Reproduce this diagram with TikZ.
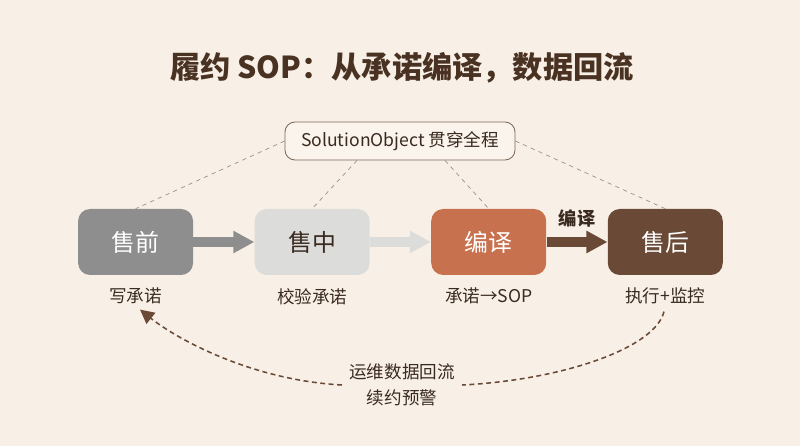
\documentclass[tikz,border=0pt]{standalone}
\usepackage{fontspec}
\setmainfont{Noto Sans CJK SC}
\usepackage{xcolor}
\usepackage{tikz}
\usetikzlibrary{positioning, arrows.meta}
\definecolor{paper}{HTML}{F8F0E6}
\definecolor{ink}{HTML}{4A3222}
\definecolor{txt}{HTML}{3A2A20}
\definecolor{stPre}{HTML}{8E8E8E}
\definecolor{stMid}{HTML}{DCDCDA}
\definecolor{stCmp}{HTML}{C8714F}
\definecolor{stPost}{HTML}{6A4A37}
\definecolor{soBorder}{HTML}{7D6656}
\definecolor{soFill}{HTML}{FAF4EC}
\definecolor{guide}{HTML}{9A918A}

\begin{document}
\begin{tikzpicture}[stage/.style={rounded corners=0.3cm, minimum width=2.875cm, minimum height=1.65cm, font=\fontsize{17}{20}\selectfont, text=white},sub/.style={font=\fontsize{12.5}{14}\selectfont, text=txt, inner sep=1pt},flow/.style={line width=7pt, -{Triangle[length=15pt, width=15pt]}},guideline/.style={draw=guide, dashed, line width=0.5pt},loopline/.style={draw=stPost, line width=1.1pt, dash pattern=on 3.5pt off 2.5pt}]
\fill[paper] (0,0) rectangle (20,-11.15);
\node[font=\bfseries\fontsize{21.5}{25}\selectfont, text=ink] (title) at (10.05,-1.7) {履约 SOP：从承诺编译，数据回流};
\node[draw=soBorder, fill=soFill, rounded corners=0.25cm, line width=0.6pt, minimum width=5.75cm, minimum height=0.95cm, font=\fontsize{12.5}{14}\selectfont, text=txt] (so) at (10,-3.525) {SolutionObject 贯穿全程};
\node[stage, fill=stPre] (pre) at (3.39,-6.05) {售前};
\node[stage, fill=stMid, text=txt, right=1.525cm of pre] (mid) {售中};
\node[stage, fill=stCmp, right=1.525cm of mid] (cmp) {编译};
\node[stage, fill=stPost, right=1.525cm of cmp] (post) {售后};
\draw[guideline] (so.west) -- (pre.north);
\draw[guideline] ([xshift=-1.075cm]so.south) -- (mid.north);
\draw[guideline] ([xshift=1.125cm]so.south) -- (cmp.north);
\draw[guideline] (so.east) -- (post.north);
\draw[flow, stPre] (pre) -- (mid);
\draw[flow, stMid] (mid) -- (cmp);
\draw[flow, stPost] (cmp) -- (post) node[midway, above=7pt, inner sep=0pt, font=\bfseries\fontsize{13}{15}\selectfont, text=txt] (cmpLbl) {编译};
\node[sub, below=8pt of pre] (preSub) {写承诺};
\node[sub, below=8pt of mid] (midSub) {校验承诺};
\node[sub, below=8pt of cmp] (cmpSub) {承诺→SOP};
\node[sub, below=8pt of post] (postSub) {执行+监控};
\node[sub, align=center, inner sep=5pt, font=\fontsize{12.5}{18.5}\selectfont] (loop) at (10.05,-9.625) {运维数据回流\\续约预警};
\draw[loopline, shorten <=4pt] (postSub.south) .. controls +(-0.25,-1.05) and +(2.5,0.125) .. (loop.east);
\draw[loopline, shorten >=4pt, -{Triangle[length=10pt, width=10pt]}] (loop.west) .. controls +(-2.3,0.125) and +(1.0,-0.8) .. (preSub.south);
\end{tikzpicture}
\end{document}
